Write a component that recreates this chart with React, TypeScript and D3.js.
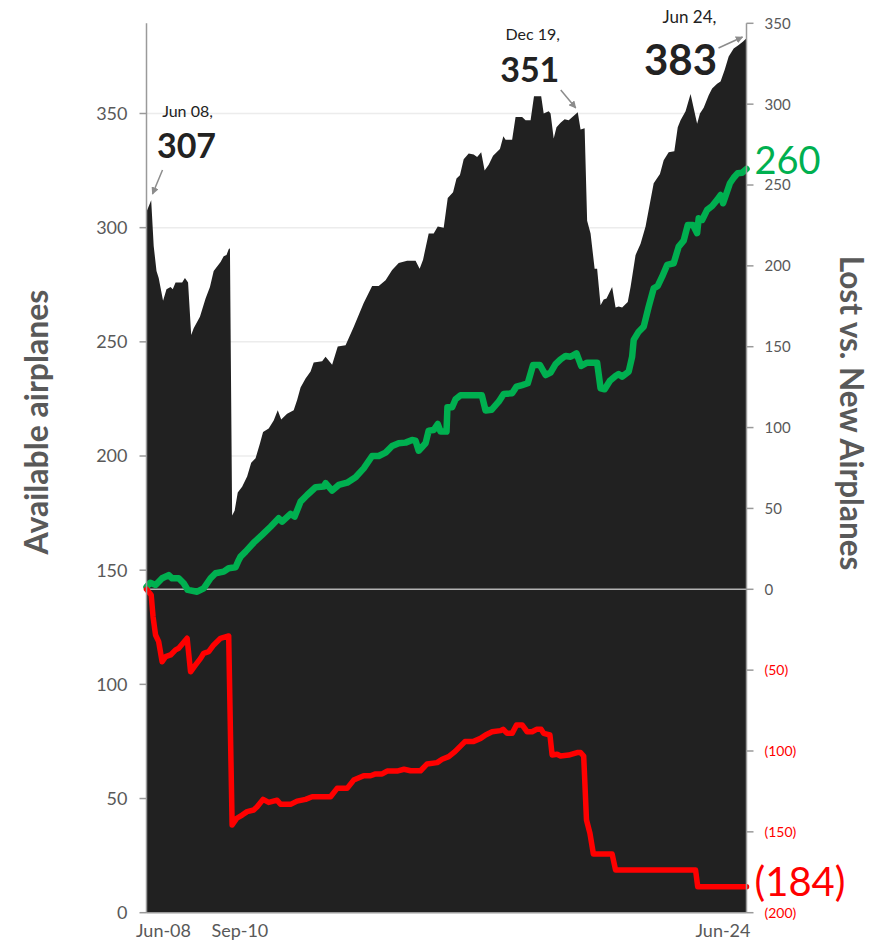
import React from "react";
import * as d3 from "d3";

// months since Jun-2008 (0 = Jun-08, 192 = Jun-24)
const fleetMonths = [0, 1.5, 2.3, 3.2, 3.9, 5.3, 6.4, 7.7, 8.4, 9.3, 11.4, 12.3, 13.3, 14.3, 15.1, 17.1, 18.9, 20.3, 21.5, 23.7, 24.7, 25.6, 26.3, 26.7, 27.4, 28.2, 29.2, 30.6, 32.2, 33.5, 34.9, 36.3, 37.3, 39.1, 40.7, 42, 43.1, 45, 47.1, 48.2, 49.3, 50.9, 52.5, 53.5, 56.2, 57.3, 59.4, 61.2, 63.7, 66.3, 69.5, 72.2, 74.3, 76.5, 78.6, 80.7, 83.4, 86.1, 87.4, 88.5, 90.3, 91.9, 93.2, 95.1, 96.4, 98.1, 99.2, 100.3, 101.5, 103.1, 104.7, 105.8, 107.1, 108.2, 109.5, 110.9, 113.1, 114.2, 114.9, 117, 118.1, 120.2, 121.3, 122.9, 124, 126.3, 127.1, 128.7, 129.3, 130.3, 131.2, 132.5, 133.8, 135.1, 138, 138.9, 140.2, 141, 142.1, 143.4, 144.2, 145.3, 146.3, 147.2, 149, 150.1, 151.1, 152.2, 154, 154.9, 156.5, 158.1, 159.7, 162.3, 164.3, 165.5, 167.1, 168.9, 170, 170.9, 172.5, 174.1, 176.2, 177.1, 178.3, 179.9, 181, 182.6, 183.7, 185, 186.3, 187.9, 189.5, 190.9, 192];
const fleetValues = [307, 312, 292, 281, 278, 268, 273, 274, 273, 276, 276, 278, 276, 253, 256, 261, 269, 274, 281, 285, 287.5, 288, 290.5, 291, 174, 176, 184, 186.5, 191, 197, 199, 205.5, 210.5, 212, 215.5, 220, 216, 218.5, 220, 224.5, 230, 234, 237, 241, 241.5, 243.5, 240, 248, 248.5, 256.5, 267, 274.5, 274.5, 277, 281.5, 284.5, 285.5, 285.5, 282, 286, 297.5, 297.5, 300.5, 300, 313, 315.5, 321.5, 323, 330, 332.5, 332, 331, 333, 325, 327.5, 331.5, 334.5, 340, 338.5, 338.5, 348.5, 348.5, 347, 347, 357.5, 357.5, 350, 351, 350, 339, 344, 346, 347.5, 347, 350.5, 343, 343.5, 303, 297.5, 282, 282, 266, 268.5, 269, 274, 265, 265.5, 265, 267.5, 274, 288, 293, 300.5, 319.5, 323.5, 329.5, 333, 333.5, 344, 347, 351, 358.5, 345.5, 350, 352.5, 358, 361, 363, 364, 369, 375, 378.5, 380, 381.5, 383];

const newMonths = [0, 1.2, 2.9, 5, 7.1, 8.2, 10.3, 11.9, 13.2, 16.2, 18.3, 20.5, 22.1, 24.7, 26.3, 28.5, 29.5, 30.1, 31.7, 34.3, 37, 39.7, 42.3, 43.4, 46.1, 47.4, 49.3, 51.4, 54.1, 56.7, 57.3, 59.4, 61.5, 64.2, 66.9, 69.5, 72.2, 74.3, 76.5, 78.6, 80.7, 82.9, 85, 86.1, 87.1, 89.3, 90.3, 91.9, 93.2, 94.1, 96, 96.3, 97.8, 98.9, 100.5, 103.7, 107.3, 108.5, 110.4, 112.7, 114.3, 117, 118.4, 120.2, 122, 123.7, 125.9, 127.7, 129.3, 130.9, 132.5, 134.1, 135.7, 137.6, 139.1, 141, 144.2, 145.3, 146.6, 148.3, 150.1, 151.1, 152.2, 154.3, 155.4, 155.9, 157.5, 159.1, 160.7, 162.3, 163.6, 165, 166.6, 168.7, 170.3, 171.9, 173.2, 174.9, 176.2, 176.7, 177.8, 179.4, 181, 182.6, 183.7, 184.5, 185.6, 186.7, 187.9, 189.2, 190.6, 192];
const newValues = [1.5, 4, 2.7, 6.8, 8.8, 6.8, 6.8, 3.7, -0.4, -1.5, 0.6, 6.8, 9.9, 10.9, 13, 13.6, 18, 20.2, 23.3, 28.8, 33.6, 38.7, 43.9, 41.8, 46.6, 44.9, 54.2, 58.3, 63.1, 63.5, 65.6, 61, 64.5, 65.9, 69.3, 74.8, 82.4, 82.4, 84.5, 88.6, 90.3, 90.7, 92.3, 91.9, 85.7, 90.3, 98.1, 98.5, 102.2, 97.5, 97.5, 112.6, 112.6, 117.5, 120, 120, 120, 110.5, 111, 116, 120.8, 121.2, 125.3, 126.3, 127.4, 138.7, 138.7, 132.5, 134, 139.3, 142.2, 144.3, 143.8, 145.9, 138.1, 140.1, 140.1, 124.3, 123.7, 129, 131.9, 133.1, 131.5, 134.6, 143.8, 154.2, 159.3, 162.4, 174.8, 186.1, 187.6, 193.3, 200.6, 201.6, 211.9, 215.6, 225.3, 225.3, 220.2, 229.4, 228.4, 234.6, 237, 240.8, 243.8, 238.7, 244.9, 251.1, 254.5, 257.3, 257.6, 260];

const lostMonths = [0, 1.5, 2.1, 2.9, 3.9, 5, 6.1, 7.7, 9.3, 10.3, 13, 14.1, 15.7, 17.3, 18.3, 19.9, 21.5, 23.7, 24.7, 26.3, 27.4, 28.9, 30.6, 32.2, 34.3, 35.4, 37.3, 39.1, 41.8, 42.9, 46.1, 48.2, 50.9, 53, 58.9, 61, 64.2, 66.3, 69.5, 71.7, 73.3, 75.4, 77, 80.2, 82.4, 84.5, 87.7, 89.8, 93, 94.6, 96.7, 98.7, 101.9, 104.5, 106.9, 108.5, 110.6, 113.3, 114.1, 115.4, 117, 118.4, 120.2, 121.8, 123.4, 124.8, 126.3, 127.1, 129.1, 129.8, 131.4, 132.5, 135.1, 137.8, 138.9, 139.9, 140.8, 141.9, 143, 149, 150.1, 175.7, 176.4, 192];
const lostValues = [0, -3.5, -17, -28.3, -32.4, -44.8, -41.7, -40.6, -37.5, -36.5, -30.3, -51, -46.8, -42.7, -39.6, -38.6, -34.4, -30.3, -29.7, -28.9, -145.8, -141.6, -139.6, -137.5, -136.5, -134.5, -129.9, -131.8, -130.4, -133, -133, -131, -129.9, -128.3, -128.3, -123.1, -123.1, -118, -115.3, -115.3, -114.2, -114.2, -112.4, -112.4, -111.3, -112.2, -112.2, -108, -107.2, -105.1, -103.5, -100.4, -94.2, -94.2, -92.2, -90.1, -88.1, -87.4, -86.6, -89.1, -89.1, -83.9, -83.9, -88.1, -88.1, -86.6, -86.6, -89.1, -90.1, -102.5, -102, -103.1, -102.5, -101, -101, -103.1, -142.7, -150.9, -163.7, -163.7, -173.6, -173.6, -184, -184];

const xTickMonths = [0, 27, 192];
const xTickLabels = ["Jun-08", "Sep-10", "Jun-24"];
const leftTicks = [0, 50, 100, 150, 200, 250, 300, 350];
const rightTicks = [-200, -150, -100, -50, 0, 50, 100, 150, 200, 250, 300, 350];

const annotations = [
  { month: 0, value: 307, date: "Jun 08,", label: "307" },
  { month: 138, value: 351, date: "Dec 19,", label: "351" },
  { month: 192, value: 383, date: "Jun 24,", label: "383" },
];

const FONT = "Lato, 'Open Sans', sans-serif";
const GREY = "#595959";
const AXIS = "#9a9a9a";

export default function App() {
  const left = 146.5, right = 746.5, top = 23.3, bottom = 912.7;
  const x = d3.scaleLinear().domain([0, 192]).range([left, right]);
  const yL = d3.scaleLinear().domain([0, 389.5]).range([bottom, top]);
  const yR = d3.scaleLinear().domain([-200, 350]).range([bottom, top]);

  const fleet = fleetMonths.map((m, i) => [m, fleetValues[i]] as [number, number]);
  const added = newMonths.map((m, i) => [m, newValues[i]] as [number, number]);
  const lost = lostMonths.map((m, i) => [m, lostValues[i]] as [number, number]);

  const area = d3.area<[number, number]>().x((d) => x(d[0])).y0(yL(0)).y1((d) => yL(d[1]));
  const lineR = d3.line<[number, number]>().x((d) => x(d[0])).y((d) => yR(d[1]));

  const fmtR = (v: number) => (v < 0 ? `(${Math.abs(v)})` : `${v}`);

  const a0 = annotations[0], a1 = annotations[1], a2 = annotations[2];

  return (
    <svg width={872} height={951} style={{ position: "absolute", left: 0, top: 0, background: "#fff" }}>
      <defs>
        <marker id="arr" viewBox="0 0 10 10" refX="9" refY="5" markerWidth="5" markerHeight="5" orient="auto-start-reverse">
          <path d="M0,0 L10,5 L0,10 z" fill="#8c8c8c" />
        </marker>
      </defs>
      {/* gridlines */}
      {leftTicks.filter((t) => t > 0).map((t) => (
        <line key={"g" + t} x1={left} x2={right} y1={yL(t)} y2={yL(t)} stroke="#ececec" strokeWidth={1.5} />
      ))}
      {/* area */}
      <path d={area(fleet) || ""} fill="#212121" />
      {/* zero line of right axis */}
      <line x1={left} x2={right} y1={yR(0)} y2={yR(0)} stroke="#b3b3b3" strokeWidth={1.5} />
      {/* lines */}
      <path d={lineR(added) || ""} fill="none" stroke="#00b050" strokeWidth={6.5} strokeLinejoin="round" strokeLinecap="round" />
      <path d={lineR(lost) || ""} fill="none" stroke="#ff0000" strokeWidth={5.5} strokeLinejoin="round" strokeLinecap="round" />

      {/* left axis */}
      <line x1={left} x2={left} y1={top} y2={bottom} stroke={AXIS} strokeWidth={1.5} />
      {leftTicks.map((t) => (
        <g key={"l" + t}>
          <line x1={left - 7} x2={left} y1={yL(t)} y2={yL(t)} stroke={AXIS} strokeWidth={1.5} />
          <text x={left - 19} y={yL(t)} dy="0.36em" textAnchor="end" fontFamily={FONT} fontSize={18} fill={GREY}>{t}</text>
        </g>
      ))}
      {/* bottom axis */}
      <line x1={left} x2={right} y1={bottom} y2={bottom} stroke={AXIS} strokeWidth={1.5} />
      {xTickMonths.map((m, i) => {
        const anchor = i === 2 ? "end" : "middle";
        const dx = i === 0 ? 17 : i === 1 ? 9 : 4;
        return (
          <text key={"x" + i} x={x(m) + dx} y={937} textAnchor={anchor} fontFamily={FONT} fontSize={18} fill={GREY}>{xTickLabels[i]}</text>
        );
      })}
      {/* right axis */}
      <line x1={right} x2={right} y1={top} y2={bottom} stroke={AXIS} strokeWidth={1.5} />
      {rightTicks.map((t) => (
        <g key={"r" + t}>
          <line x1={right} x2={right + 7} y1={yR(t)} y2={yR(t)} stroke={AXIS} strokeWidth={1.5} />
          <text x={right + 18} y={yR(t)} dy="0.36em" fontFamily={FONT} fontSize={t < 0 ? 14 : 15} fill={t < 0 ? "#ff0000" : GREY}>{fmtR(t)}</text>
        </g>
      ))}

      {/* axis titles */}
      <text transform={`translate(48,${(top + bottom) / 2 - 46}) rotate(-90)`} textAnchor="middle" fontFamily={FONT} fontWeight={700} fontSize={32} fill={GREY}>Available airplanes</text>
      <text transform={`translate(840,${(top + bottom) / 2 - 55}) rotate(90)`} textAnchor="middle" fontFamily={FONT} fontWeight={700} fontSize={31.5} fill={GREY}>Lost vs. New Airplanes</text>

      {/* end labels */}
      <text x={right + 8} y={yR(newValues[newValues.length - 1]) + 5} fontFamily={FONT} fontSize={38} fill="#00b050">{newValues[newValues.length - 1]}</text>
      <text x={right + 8} y={yR(lostValues[lostValues.length - 1]) + 9} fontFamily={FONT} fontSize={40} fill="#ff0000">{fmtR(lostValues[lostValues.length - 1])}</text>

      {/* annotations */}
      <text x={x(a0.month) + 41} y={117} textAnchor="middle" fontFamily={FONT} fontSize={16} fill="#222">{a0.date}</text>
      <text x={x(a0.month) + 40} y={158} textAnchor="middle" fontFamily={FONT} fontWeight={700} fontSize={34} fill="#222">{a0.label}</text>
      <line x1={x(a0.month) + 16} y1={170} x2={x(a0.month) + 6} y2={194} stroke="#8c8c8c" strokeWidth={1.5} markerEnd="url(#arr)" />

      <text x={x(a1.month) - 45} y={40} textAnchor="middle" fontFamily={FONT} fontSize={16} fill="#222">{a1.date}</text>
      <text x={x(a1.month) - 48} y={82} textAnchor="middle" fontFamily={FONT} fontWeight={700} fontSize={34} fill="#222">{a1.label}</text>
      <line x1={x(a1.month) - 17} y1={90} x2={x(a1.month) - 2} y2={108} stroke="#8c8c8c" strokeWidth={1.5} markerEnd="url(#arr)" />

      <text x={x(a2.month) - 57} y={23} textAnchor="middle" fontFamily={FONT} fontSize={17} fill="#222">{a2.date}</text>
      <text x={x(a2.month) - 66} y={75} textAnchor="middle" fontFamily={FONT} fontWeight={700} fontSize={42} fill="#222">{a2.label}</text>
      <line x1={x(a2.month) - 28} y1={48} x2={x(a2.month) - 4} y2={37} stroke="#8c8c8c" strokeWidth={1.5} markerEnd="url(#arr)" />
    </svg>
  );
}
